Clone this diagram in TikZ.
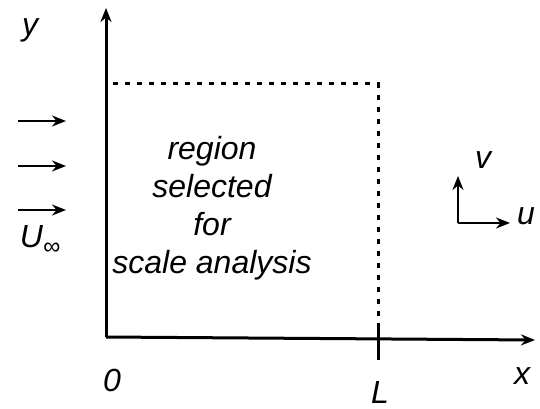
\documentclass[tikz,border=0pt]{standalone}
\usepackage{fontspec}
\setmainfont{Liberation Sans}
\usetikzlibrary{arrows.meta}

\begin{document}
\begin{tikzpicture}[
  x=1pt, y=-1pt,
  >={Stealth[length=14pt,width=11pt]},
  font=\itshape\fontsize{32}{38}\selectfont,
  axis/.style={->, line width=3pt},
  flowarrow/.style={->, line width=2.6pt},
  region/.style={line width=3pt, dash pattern=on 5pt off 7pt},
  lbl/.style={inner sep=1pt}
]
  \useasboundingbox (0,0) rectangle (540,409);

  % Axes
  \coordinate (origin) at (106,337);
  \coordinate (yend) at (106,8);
  \coordinate (xend) at (535,340);
  \draw[axis] (origin) -- (yend);
  \draw[axis] (origin) -- (xend);
  \node[lbl] (ylab) at (30,30) {y};
  \node[lbl] (xlab) at (522,376) {x};
  \node[lbl] (zero) at (112,380) {0};

  % Region selected for scale analysis
  \coordinate (rtl) at (113,84);
  \coordinate (rtr) at (378,84);
  \coordinate (rbr) at (378,325);
  \draw[region] (rtl) -- (rtr) -- (rbr);
  \coordinate (ltop) at (378,325);
  \coordinate (lbot) at (378,360);
  \draw[line width=3pt] (ltop) -- (lbot);
  \node[lbl] (Llab) at (380,392) {L};
  \node[align=center, lbl] (rtext) at (212,208) {region\\selected\\for\\scale analysis};

  % Free stream
  \foreach \yy/\nm in {121/a, 166/b, 210/c} {
    \coordinate (s\nm) at (18,\yy);
    \coordinate (e\nm) at (66,\yy);
    \draw[flowarrow] (s\nm) -- (e\nm);
  }
  \node[lbl] (uinf) at (40,240) {U\raisebox{-0.4ex}{\fontsize{24}{24}\selectfont ∞}};

  % Velocity components
  \coordinate (uvc) at (458,223);
  \coordinate (vend) at (458,176);
  \coordinate (uend) at (510,223);
  \draw[flowarrow] (uvc) -- (vend);
  \draw[flowarrow] (uvc) -- (uend);
  \node[lbl] (vlab) at (483,160) {v};
  \node[lbl] (ulab) at (526,216) {u};
\end{tikzpicture}
\end{document}
